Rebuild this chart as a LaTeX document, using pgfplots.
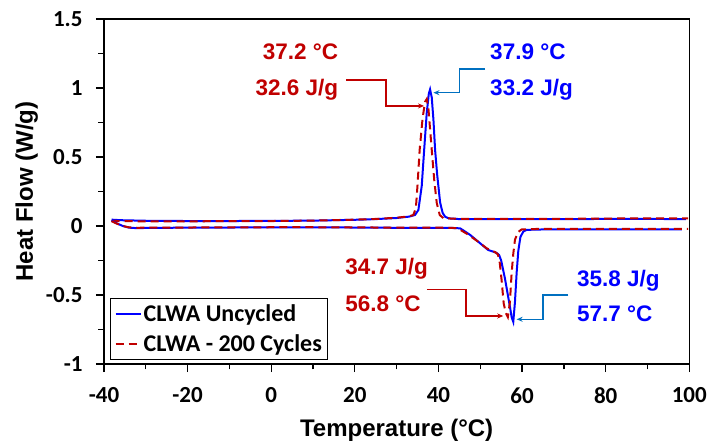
\documentclass[border=0pt]{standalone}
\usepackage{fontspec}
\setmainfont{Liberation Sans}
\newfontfamily\calibri{Carlito}
\usepackage{pgfplots}
\pgfplotsset{compat=1.18}
\usetikzlibrary{arrows.meta}
\definecolor{rojo}{HTML}{C00000}
\definecolor{azul}{HTML}{0000FF}
\definecolor{flecha}{HTML}{0070C0}

\begin{document}
\begin{tikzpicture}
\useasboundingbox (-104pt,-83pt) rectangle (609pt,364pt);
\begin{axis}[
  width=585.3pt, height=345pt, scale only axis,
  at={(0pt,0pt)}, anchor=south west,
  xmin=-40, xmax=100, ymin=-1, ymax=1.5,
  xtick={-40,-20,0,20,40,60,80,100}, ytick={-1,-0.5,0,0.5,1,1.5},
  minor x tick num=1, minor y tick num=1,
  tick pos=left, tick align=outside,
  major tick length=8pt, minor tick length=5.5pt,
  tick style={line width=1.3pt, black},
  axis line style={line width=1.5pt},
  /pgf/number format/assume math mode=true,
  tick label style={font=\calibri\bfseries\fontsize{23}{27}\selectfont},
  xticklabel style={yshift=-12pt},
  yticklabel style={xshift=-10pt},
  xlabel={Temperature (°C)}, ylabel={Heat Flow (W/g)},
  label style={font=\bfseries\fontsize{24}{28}\selectfont},
  xlabel style={at={(axis description cs:0.5,-0.191)}, anchor=center},
  ylabel style={at={(axis description cs:-0.132,0.5)}, anchor=center},
  legend style={at={(0.0103,0.0116)}, anchor=south west, draw=black, line width=1.3pt,
    font=\calibri\bfseries\fontsize{24}{28}\selectfont, row sep=8pt, inner sep=4pt},
  legend cell align=left,
  legend image code/.code={\draw[#1] (0pt,0pt) -- (25pt,0pt);},
]
% uncycled, cooling
\addplot[azul, line width=2pt] coordinates {
(-38.2,0.046) (-36,0.042) (-30,0.038) (-20,0.036) (-10,0.036) (0,0.037) (10,0.039)
(20,0.045) (25,0.05) (30,0.058) (33,0.068) (34.4,0.08) (35.2,0.116) (36.0,0.29)
(36.6,0.56) (37.2,0.82) (37.7,0.96) (38.0,0.99) (38.4,0.93) (38.8,0.77) (39.2,0.55)
(39.7,0.37) (40.4,0.17) (41.0,0.095) (41.6,0.067) (42.5,0.055) (45,0.05) (50,0.049)
(60,0.049) (70,0.05) (80,0.051) (90,0.052) (99.2,0.049)};
\addlegendentry{CLWA Uncycled}
% 200 cycles, cooling
\addplot[rojo, line width=2pt, dash pattern=on 8pt off 5pt] coordinates {
(-38.2,0.038) (-36,0.035) (-30,0.034) (-20,0.034) (-10,0.035) (0,0.036) (10,0.039)
(20,0.046) (25,0.051) (30,0.06) (33,0.07) (34.0,0.08) (34.6,0.13) (35.0,0.3)
(35.5,0.55) (36.2,0.78) (36.8,0.9) (37.2,0.92) (37.6,0.85) (38.0,0.7) (38.4,0.55)
(39.0,0.33) (39.6,0.165) (40.3,0.08) (41.2,0.056) (45,0.052) (50,0.051) (60,0.051)
(70,0.052) (80,0.054) (90,0.056) (99.7,0.055)};
\addlegendentry{CLWA - 200 Cycles}
% uncycled, heating
\addplot[azul, line width=2pt, forget plot] coordinates {
(-38.2,0.04) (-37,0.02) (-35.5,0.0) (-34,-0.012) (-32,-0.016) (-30,-0.014) (-20,-0.012)
(-10,-0.011) (0,-0.01) (10,-0.01) (20,-0.011) (30,-0.013) (40,-0.013) (43,-0.014)
(45.2,-0.017) (47.6,-0.065) (50,-0.126) (51.9,-0.174) (53.3,-0.188) (53.9,-0.195)
(54.5,-0.21) (55.0,-0.25) (55.9,-0.38) (56.6,-0.5) (57.1,-0.585) (57.5,-0.66)
(57.9,-0.695) (58.3,-0.55) (58.7,-0.34) (59.1,-0.18) (59.6,-0.08) (60.3,-0.04)
(61.1,-0.028) (65,-0.025) (70,-0.024) (80,-0.024) (90,-0.024) (98.2,-0.024)};
% 200 cycles, heating
\addplot[rojo, line width=2pt, dash pattern=on 8pt off 5pt, forget plot] coordinates {
(-38.2,0.035) (-37,0.018) (-35.5,0.0) (-34,-0.01) (-32,-0.013) (-30,-0.012) (-20,-0.011)
(-10,-0.01) (0,-0.009) (10,-0.009) (20,-0.01) (30,-0.012) (40,-0.012) (44.5,-0.015)
(47,-0.06) (49.5,-0.114) (51.55,-0.162) (53.0,-0.183) (53.5,-0.188) (54.2,-0.205)
(54.6,-0.25) (55.1,-0.39) (55.6,-0.56) (56.1,-0.63) (56.6,-0.66) (57.1,-0.55)
(57.5,-0.343) (57.9,-0.2) (58.3,-0.1) (59.0,-0.045) (59.9,-0.025) (65,-0.02)
(80,-0.02) (99.7,-0.02)};

% annotations
\begin{scope}[every node/.style={inner sep=0pt, font=\bfseries\fontsize{22.5}{27}\selectfont}]
\node[anchor=base east, text=rojo] at (axis cs:16.05,1.203) {37.2 °C};
\node[anchor=base east, text=rojo] at (axis cs:16.05,0.949) {32.6 J/g};
\node[anchor=base west, text=azul] at (axis cs:52.34,1.203) {37.9 °C};
\node[anchor=base west, text=azul] at (axis cs:52.34,0.949) {33.2 J/g};
\node[anchor=base west, text=rojo] at (axis cs:17.66,-0.355) {34.7 J/g};
\node[anchor=base west, text=rojo] at (axis cs:17.66,-0.618) {56.8 °C};
\node[anchor=base west, text=azul] at (axis cs:73.1,-0.44) {35.8 J/g};
\node[anchor=base west, text=azul] at (axis cs:73.1,-0.693) {57.7 °C};
\end{scope}
\draw[rojo, line width=1.5pt, -{Stealth[length=6pt,width=5pt]}]
  (axis cs:17.9,1.058) -- (axis cs:27.5,1.058) -- (axis cs:27.5,0.87) -- (axis cs:36.55,0.87);
\draw[flecha, line width=1.5pt, -{Stealth[length=6pt,width=5pt]}]
  (axis cs:51.15,1.136) -- (axis cs:45.0,1.136) -- (axis cs:45.0,0.966) -- (axis cs:38.8,0.966);
\draw[rojo, line width=1.5pt, -{Stealth[length=6pt,width=5pt]}]
  (axis cs:37.2,-0.459) -- (axis cs:46.6,-0.459) -- (axis cs:46.6,-0.652) -- (axis cs:55.5,-0.652);
\draw[flecha, line width=1.5pt, -{Stealth[length=6pt,width=5pt]}]
  (axis cs:71.1,-0.5) -- (axis cs:64.95,-0.5) -- (axis cs:64.95,-0.676) -- (axis cs:58.7,-0.676);
\end{axis}
\end{tikzpicture}
\end{document}
